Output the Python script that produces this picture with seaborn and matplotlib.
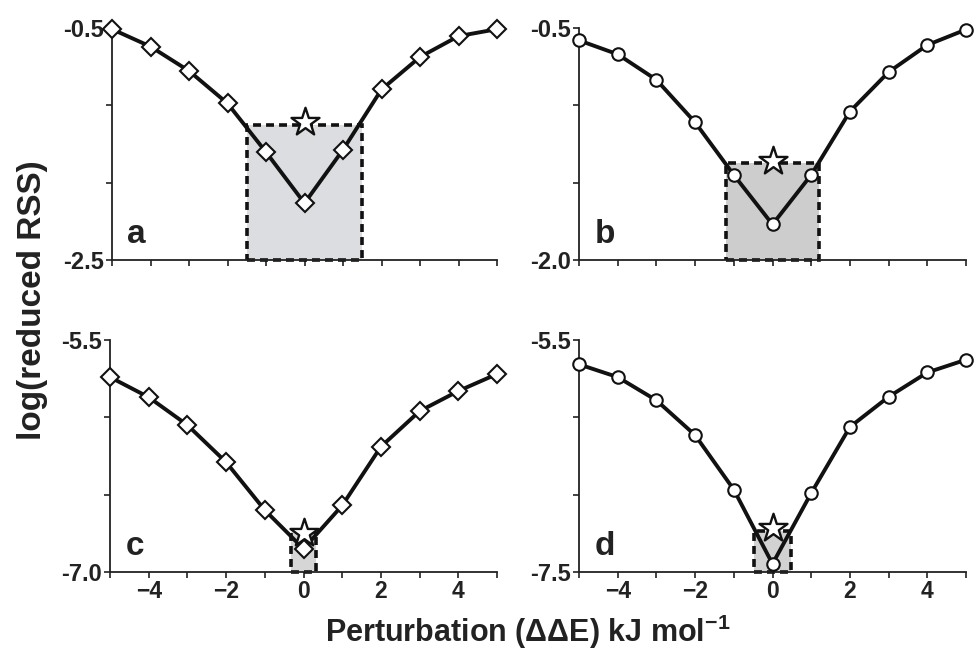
import numpy as np
import pandas as pd
import matplotlib
matplotlib.use("Agg")
import matplotlib.pyplot as plt
import seaborn as sns
from matplotlib.patches import Rectangle

sns.set_style("ticks")
plt.rcParams['font.family'] = ['Liberation Sans', 'DejaVu Sans']
plt.rcParams['font.weight'] = 'bold'
plt.rcParams['mathtext.fontset'] = 'custom'
plt.rcParams['mathtext.rm'] = 'Liberation Sans:bold'
plt.rcParams['mathtext.bf'] = 'Liberation Sans:bold'
plt.rcParams['axes.unicode_minus'] = True

# ---- data ----
perturbation = [-5, -4, -3, -2, -1, 0, 1, 2, 3, 4, 5]
rss_a = [-0.51, -0.66, -0.87, -1.15, -1.57, -2.01, -1.55, -1.03, -0.75, -0.57, -0.51]
rss_b = [-0.58, -0.67, -0.835, -1.11, -1.45, -1.77, -1.45, -1.04, -0.785, -0.61, -0.51]
rss_c = [-5.74, -5.87, -6.05, -6.29, -6.60, -6.85, -6.57, -6.19, -5.96, -5.83, -5.72]
rss_d = [-5.71, -5.82, -6.02, -6.32, -6.79, -7.43, -6.82, -6.25, -5.99, -5.78, -5.67]
panel_letters = ['a', 'b', 'c', 'd']
y_limits = [(-2.5, -0.5), (-2.0, -0.5), (-7.0, -5.5), (-7.5, -5.5)]
y_ticklabels = [('-2.5', '-0.5'), ('-2.0', '-0.5'), ('-7.0', '-5.5'), ('-7.5', '-5.5')]
markers = ['D', 'o', 'D', 'o']
star_y = [-1.31, -1.36, -6.75, -7.12]
box_halfwidth = [1.5, 1.2, 0.33, 0.47]
box_top = [-1.335, -1.37, -6.74, -7.15]
box_colors = ['#dcdde0', '#cdcdcd', '#d6d6d6', '#d2d2d2']
x_ticks = [-4, -2, 0, 2, 4]
x_ticklabels = ['\u22124', '\u22122', '0', '2', '4']

series = [rss_a, rss_b, rss_c, rss_d]

fig = plt.figure(figsize=(9.74, 6.54), dpi=100)
positions = [
    [112/974, 1-260/654, 385/974, 232/654],
    [579/974, 1-260/654, 387/974, 232/654],
    [110/974, 1-572/654, 387/974, 232/654],
    [579/974, 1-572/654, 387/974, 232/654],
]

for i in range(4):
    ax = fig.add_axes(positions[i])
    ymin, ymax = y_limits[i]
    df = pd.DataFrame({'x': perturbation, 'y': series[i]})
    hw = box_halfwidth[i]
    rect = Rectangle((-hw, ymin), 2*hw, box_top[i]-ymin, facecolor=box_colors[i],
                     edgecolor='#111111', linewidth=2.6, linestyle=(0, (2.2, 1.4)),
                     zorder=1, clip_on=False)
    ax.add_patch(rect)
    sns.lineplot(data=df, x='x', y='y', ax=ax, color='#111111', linewidth=2.8,
                 marker=markers[i], markersize=9 if markers[i] == 'D' else 9,
                 markerfacecolor='white', markeredgecolor='#111111',
                 markeredgewidth=1.5, clip_on=False, zorder=3)
    sns.scatterplot(x=[0], y=[star_y[i]], ax=ax, marker='*', s=450,
                    color='white', edgecolor='#111111', linewidth=1.7,
                    zorder=5, clip_on=False)
    ax.set_xlim(-5, 5)
    ax.set_ylim(ymin, ymax)
    ax.set_yticks(np.linspace(ymin, ymax, 4))
    ax.set_yticklabels([y_ticklabels[i][0], '', '', y_ticklabels[i][1]],
                       fontsize=17, fontweight='bold')
    ax.set_xticks(list(range(-5, 6)))
    if i >= 2:
        labs = []
        for v in range(-5, 6):
            labs.append(x_ticklabels[x_ticks.index(v)] if v in x_ticks else '')
        ax.set_xticklabels(labs, fontsize=16.5, fontweight='bold')
    else:
        ax.set_xticklabels([''] * 11)
    ax.set_xlabel('')
    ax.set_ylabel('')
    sns.despine(ax=ax)
    for s in ['left', 'bottom']:
        ax.spines[s].set_linewidth(1.3)
        ax.spines[s].set_color('#222222')
    ax.tick_params(axis='both', length=4, width=1.2, direction='out', pad=2,
                   color='#222222', labelcolor='#222222')
    ax.text(0.04, 0.045, panel_letters[i], transform=ax.transAxes,
            fontsize=24, fontweight='bold', ha='left', va='bottom', color='#222222')

fig.text(0.033, 0.541, 'log(reduced RSS)', rotation=90, fontsize=24,
         fontweight='bold', ha='center', va='center', color='#222222')
fig.text(0.542, 0.034, 'Perturbation (\u0394\u0394E) kJ mol$^{-1}$', fontsize=22,
         fontweight='bold', ha='center', va='center', color='#222222')

fig.savefig('out.png', dpi=100)
